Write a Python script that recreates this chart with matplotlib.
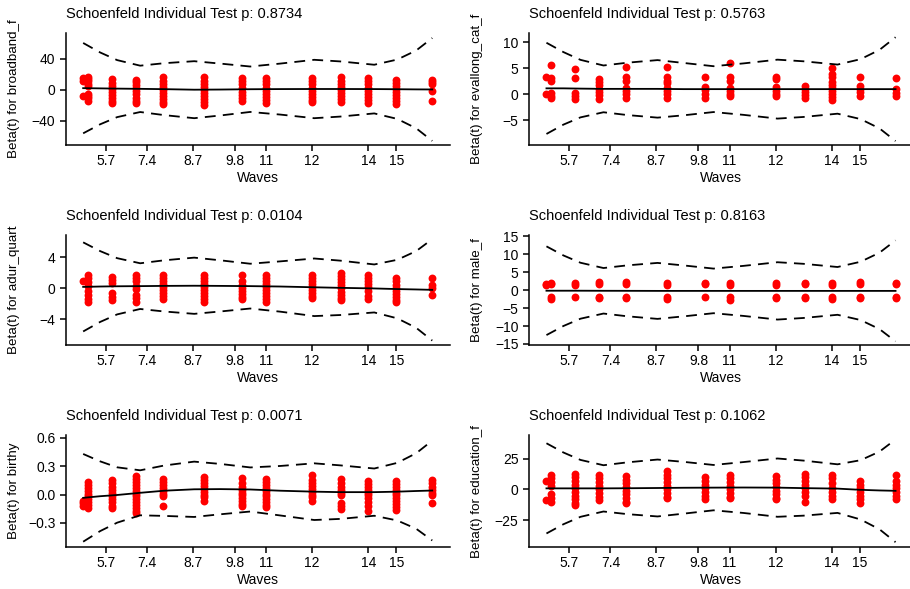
import numpy as np
import matplotlib
matplotlib.use("Agg")
import matplotlib.pyplot as plt

plt.rcParams['font.family'] = ['Liberation Sans', 'DejaVu Sans']

# transformed event times (one column of residuals per wave)
wave_x = [17, 22, 46, 70, 97, 138, 176, 200, 246, 275, 302, 330, 366]
tick_x = [40, 81, 127, 169, 200, 246, 302, 330]
tick_labels = ["5.7", "7.4", "8.7", "9.8", "11", "12", "14", "15"]

# grid on which the spline fit and its band are evaluated
grid_x = [17, 34, 51, 74, 98, 128, 154, 184, 214, 248, 274, 308, 331, 350, 366]
# relative width of the +/- 2 se band along the grid
se_profile = [1.95, 1.55, 1.23, 1.0, 1.12, 1.23, 1.12, 0.98, 1.1, 1.26, 1.19, 1.05, 1.28, 1.68, 2.22]

# --- broadband_f
resid_broadband = [
    [15, 12, -8],
    [17, 14, 11, 8, 5, -5, -8, -11, -14],
    [14, 9, 5, 1, -3, -7, -11, -14, -17],
    [13, 10, 6, 2, -2, -6, -10, -14, -17],
    [16, 12, 8, 4, 0, -4, -8, -12, -16, -18],
    [16, 12, 8, 4, 0, -4, -8, -12, -16, -19],
    [15, 11, 7, 3, -3, -7, -11, -14],
    [15, 11, 7, 3, -1, -5, -9, -13, -17],
    [15, 11, 7, 3, -1, -5, -9, -13, -16],
    [16, 12, 8, 4, 0, -4, -8, -12, -16],
    [15, 11, 7, 3, -1, -5, -9, -13, -17],
    [13, 9, 5, 1, -3, -7, -11, -15, -18],
    [13, 10, 7, -2, -15],
]
fit_broadband = [2.2, 1.9, 1.6, 1.3, 0.9, 0.2, 0.4, 0.8, 1.0, 1.1, 1.1, 1.0, 0.8, 0.6, 0.5]

# --- evallong_cat_f
resid_evallong = [
    [3.2, 0.0],
    [5.5, 3.0, 2.6, 0.2, -0.3, -0.7],
    [4.8, 3.0, 0.3, -0.3, -1.0],
    [2.9, 2.3, 1.7, 1.0, 0.4, -0.2, -0.9],
    [5.3, 3.2, 2.6, 1.2, 0.6, 0.0, -0.7],
    [5.3, 3.2, 2.6, 2.2, 1.2, 0.6, 0.0, -0.8],
    [3.2, 1.3, 0.7, 0.1, -0.7],
    [6.0, 3.3, 2.6, 1.2, 0.6, 0.0, -0.4],
    [3.3, 2.9, 1.3, 0.6, 0.0, -0.4],
    [1.6, 1.0, 0.4, -0.2, -0.7],
    [5.1, 3.8, 3.2, 2.4, 1.8, 1.2, 0.6, 0.0, -0.6, -1.2],
    [3.3, 1.6, 1.0, 0.4, -0.4],
    [3.0, 0.9, 0.3, -0.4],
]
fit_evallong = [1.1, 1.1, 1.05, 1.0, 1.0, 1.0, 0.95, 0.95, 0.95, 0.95, 0.95, 0.95, 0.95, 0.95, 0.95]

# --- adur_quart
resid_adur = [
    [0.9],
    [1.8, 1.3, 0.8, 0.3, -0.3, -0.8, -1.3, -1.7],
    [1.5, 1.1, 0.7, -0.6, -1.1, -1.5],
    [1.8, 1.4, 0.9, 0.3, -0.1, -0.8, -1.2, -1.7],
    [1.8, 1.4, 1.0, 0.6, 0.2, -0.2, -0.6, -1.0, -1.4],
    [1.8, 1.4, 1.0, 0.6, 0.2, -0.2, -0.6, -1.0, -1.4, -1.7],
    [1.7, 0.9, 0.5, 0.1, -0.3, -0.7, -1.1, -1.4],
    [1.8, 1.4, 1.0, 0.6, 0.2, -0.2, -0.6, -1.0, -1.4, -1.7],
    [1.8, 1.4, 1.0, 0.6, 0.2, -0.2, -0.6, -1.0, -1.2],
    [2.0, 1.6, 1.2, 0.8, 0.4, 0.0, -0.4, -0.8, -1.2, -1.5],
    [1.8, 1.4, 1.0, 0.6, 0.2, -0.3, -1.0, -1.4],
    [1.3, 0.9, 0.5, 0.1, -0.3, -0.7, -1.1, -1.5, -1.7],
    [1.3, 0.4, 0.0, -0.9],
]
fit_adur = [0.2, 0.25, 0.28, 0.3, 0.33, 0.35, 0.33, 0.3, 0.25, 0.15, 0.08, 0.0, -0.08, -0.13, -0.18]

# --- male_f
resid_male = [
    [1.5, 1.7],
    [2.1, 1.6, -2.0, -2.4],
    [2.1, 1.5, -2.0],
    [2.4, 1.8, -2.0, -2.2],
    [2.3, 1.8, -1.9, -2.3],
    [2.0, 1.5, -1.8, -2.6],
    [2.0, 1.6, -2.0],
    [2.0, 1.4, -1.8, -2.8],
    [2.0, 1.5, -1.9, -2.3],
    [2.1, 1.6, -2.0, -2.3],
    [2.0, 1.4, -1.9, -2.5],
    [2.2, 1.6, -2.0, -2.3],
    [2.1, 1.6, -1.9, -2.3],
]
fit_male = [-0.15, -0.15, -0.15, -0.17, -0.18, -0.2, -0.2, -0.2, -0.2, -0.2, -0.2, -0.2, -0.2, -0.2, -0.2]

# --- birthy
resid_birthy = [
    [-0.07, -0.09, -0.12],
    [0.13, 0.10, 0.07, 0.04, 0.01, -0.02, -0.05, -0.08, -0.11, -0.14],
    [0.15, 0.12, 0.08, 0.05, 0.02, -0.02, -0.05, -0.08, -0.12, -0.14],
    [0.19, 0.16, 0.13, 0.10, 0.07, 0.04, 0.01, -0.02, -0.05, -0.08, -0.11, -0.14, -0.17, -0.20],
    [0.16, 0.13, 0.10, 0.07, 0.04, 0.01, -0.02, -0.12],
    [0.18, 0.15, 0.12, 0.09, 0.06, 0.03, 0.0, -0.03, -0.07],
    [0.17, 0.12, 0.08, 0.05, 0.02, -0.01, -0.04, -0.07, -0.10, -0.12],
    [0.16, 0.13, 0.10, 0.07, 0.04, 0.01, -0.02, -0.05, -0.08, -0.11, -0.13],
    [0.21, 0.15, 0.12, 0.09, 0.06, 0.03, 0.0, -0.03, -0.07],
    [0.16, 0.12, 0.08, 0.05, 0.02, -0.01, -0.09, -0.12, -0.15],
    [0.14, 0.11, 0.08, 0.05, 0.02, -0.01, -0.04, -0.08, -0.12, -0.17],
    [0.14, 0.11, 0.08, 0.05, 0.02, -0.01, -0.04, -0.07, -0.10, -0.13, -0.16],
    [0.15, 0.12, 0.08, 0.05, 0.02, -0.01, -0.09],
]
fit_birthy = [-0.035, -0.018, -0.005, 0.018, 0.04, 0.055, 0.057, 0.053, 0.04, 0.03, 0.025, 0.025, 0.03, 0.037, 0.042]

# --- education_f
resid_education = [
    [7, -9],
    [12, 9, 6, 3, -4, -7, -10],
    [13, 10, 7, 4, 1, -2, -5, -8, -11, -13],
    [12, 9, 6, 3, 0, -3, -6, -9],
    [11, 8, 5, 2, -1, -4, -7, -10, -11],
    [15, 12, 9, 6, 3, 0, -3, -6, -7],
    [10, 7, 4, 1, -2, -5, -8],
    [12, 9, 6, 3, 0, -3, -6, -7],
    [11, 8, 5, 2, -1, -4, -7, -8],
    [13, 10, 7, 4, 1, -2, -5, -10],
    [12, 9, 5, 1, -2, -5, -8],
    [7, 4, 1, -2, -5, -8, -11],
    [12, 7, 4, 1, -2, -5, -8],
]
fit_education = [0.9, 0.9, 0.9, 0.9, 1.0, 1.2, 1.4, 1.5, 1.6, 1.5, 1.1, 0.7, -0.3, -0.8, -1.1]

panels = [
    ("broadband_f", "0.8734", resid_broadband, fit_broadband, 30.0, (-71.4, 73.6), [-40, 0, 40], "{:.0f}"),
    ("evallong_cat_f", "0.5763", resid_evallong, fit_evallong, 4.5, (-9.8, 11.75), [-5, 0, 5, 10], "{:.0f}"),
    ("adur_quart", "0.0104", resid_adur, fit_adur, 2.95, (-7.3, 6.9), [-4, 0, 4], "{:.0f}"),
    ("male_f", "0.8163", resid_male, fit_male, 6.35, (-15.3, 15.4), [-15, -10, -5, 0, 5, 10, 15], "{:.0f}"),
    ("birthy", "0.0071", resid_birthy, fit_birthy, 0.237, (-0.553, 0.627), [-0.3, 0.0, 0.3, 0.6], "{:.1f}"),
    ("education_f", "0.1062", resid_education, fit_education, 18.9, (-47, 44.5), [-25, 0, 25], "{:.0f}"),
]

W, H = 910, 589
fig = plt.figure(figsize=(W / 100, H / 100), dpi=100)

col_left = [65.7, 529]
row_span = [(33, 145), (235, 345), (435, 547)]
ax_w = 384

for i, (name, pval, resid, fit, scale, ylim, yticks, fmt) in enumerate(panels):
    r, c = divmod(i, 2)
    top, bottom = row_span[r]
    ax = fig.add_axes([col_left[c] / W, (H - bottom) / H, ax_w / W, (bottom - top) / H])

    xs = np.concatenate([np.full(len(v), x) for x, v in zip(wave_x, resid)])
    ys = np.concatenate([np.array(v, dtype=float) for v in resid])
    ax.scatter(xs, ys, s=32, color="#FF0000", linewidths=0, zorder=2)

    fit = np.array(fit)
    band = scale * np.array(se_profile)
    ax.plot(grid_x, fit, color="black", lw=1.3, zorder=3)
    for edge in (fit + band, fit - band):
        ax.plot(grid_x, edge, color="black", lw=1.3, dashes=(6, 4), zorder=3)

    ax.set_xlim(-0.45, 383.45)
    ax.set_ylim(*ylim)
    ax.set_xticks(tick_x)
    ax.set_xticklabels(tick_labels)
    ax.set_yticks(yticks)
    ax.set_yticklabels([fmt.format(t).replace("-", "\u2212") for t in yticks])

    for side in ("top", "right"):
        ax.spines[side].set_visible(False)
    for side in ("left", "bottom"):
        ax.spines[side].set_linewidth(1.1)
    ax.tick_params(direction="out", length=4.3, width=1.1, labelsize=10,
                   colors="black", pad=2.5)
    ax.tick_params(axis="y", pad=3.2)

    ax.set_xlabel("Waves", fontsize=10, labelpad=2)
    ax.set_ylabel(f"Beta(t) for {name}", fontsize=9.6)
    ax.yaxis.set_label_coords(-0.12, 0.5)
    ax.set_title(f"Schoenfeld Individual Test p: {pval}", loc="left",
                 fontsize=10.5, pad=11)

fig.savefig("out.png", dpi=100, facecolor="white")
